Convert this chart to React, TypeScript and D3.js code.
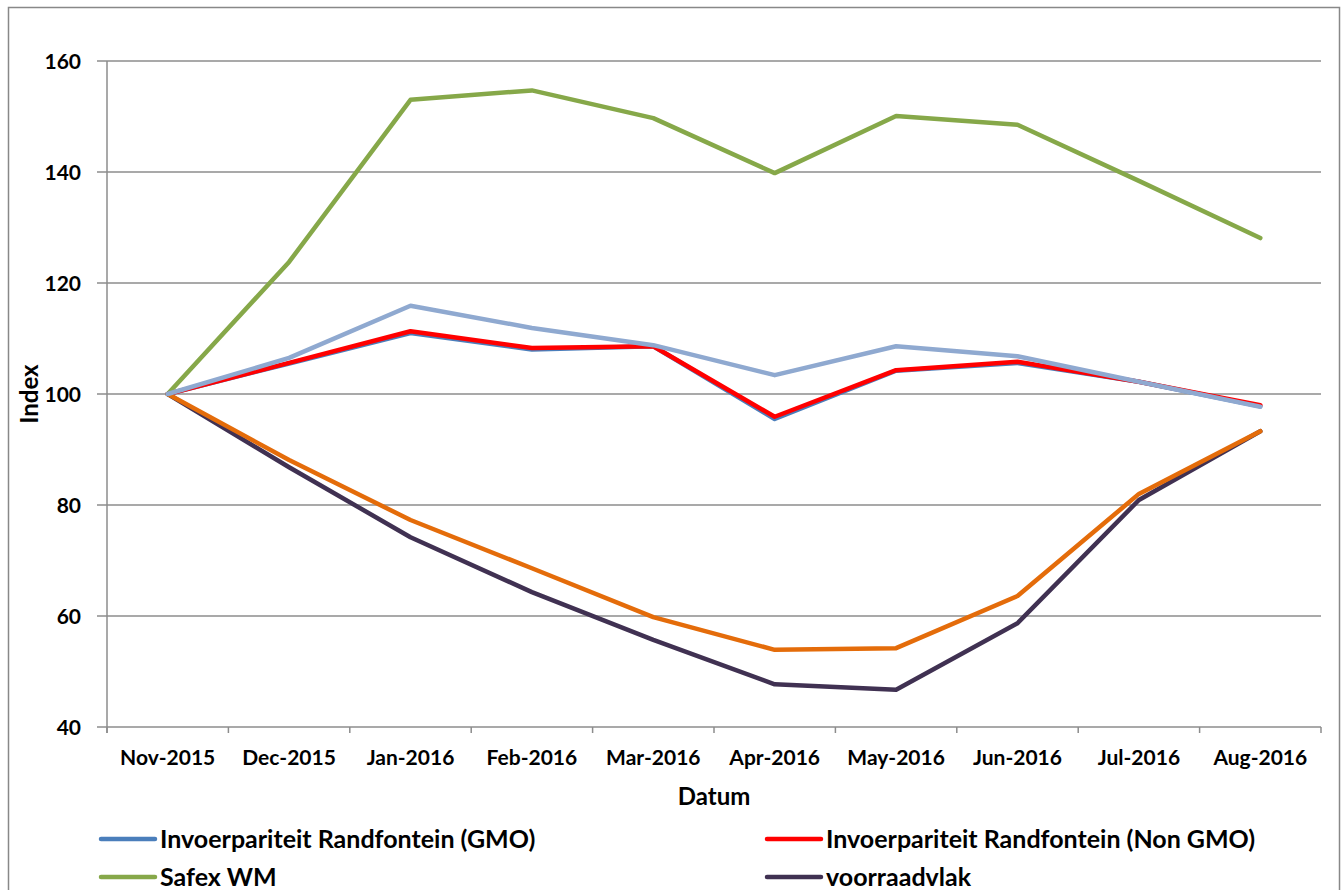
import * as d3 from "d3";

const months = [
  "Nov-2015", "Dec-2015", "Jan-2016", "Feb-2016", "Mar-2016",
  "Apr-2016", "May-2016", "Jun-2016", "Jul-2016", "Aug-2016",
];
const gmo = [100, 105.5, 111.0, 108.0, 108.6, 95.5, 104.2, 105.6, 102.2, 97.8];
const nonGmo = [100, 105.6, 111.3, 108.3, 108.6, 95.9, 104.3, 105.8, 102.2, 98.0];
const safex = [100, 123.8, 153.0, 154.7, 149.7, 139.8, 150.1, 148.5, 138.4, 128.1];
const voorraad = [100, 86.8, 74.2, 64.3, 55.7, 47.7, 46.7, 58.7, 80.9, 93.3];
const orange = [100, 88.1, 77.3, 68.6, 59.8, 53.9, 54.2, 63.6, 82.0, 93.3];
const lightBlue = [100, 106.5, 115.9, 111.9, 108.8, 103.4, 108.6, 106.8, 102.2, 97.7];
const yTicks = [40, 60, 80, 100, 120, 140, 160];

const series = [
  { name: "Invoerpariteit Randfontein (GMO)", values: gmo, color: "#4a7ebb" },
  { name: "Invoerpariteit Randfontein (Non GMO)", values: nonGmo, color: "#ff0000" },
  { name: "Safex WM", values: safex, color: "#86a849" },
  { name: "voorraadvlak", values: voorraad, color: "#403152" },
  { name: "Series5", values: orange, color: "#e46c0a" },
  { name: "Series6", values: lightBlue, color: "#8fa9d0" },
];

const width = 1344;
const height = 890;
const left = 107;
const right = 1321;
const top = 61;
const bottom = 727;
const font = "Lato, 'Open Sans', sans-serif";

export default function App() {
  const x = d3.scaleBand<string>().domain(months).range([left, right]);
  const y = d3.scaleLinear().domain([40, 160]).range([bottom, top]);
  const line = d3
    .line<number>()
    .x((_d, i) => (x(months[i]) ?? 0) + x.bandwidth() / 2)
    .y((d) => y(d));
  const boundaries = months.map((m) => x(m) ?? 0).concat([right]);

  return (
    <svg
      width={width}
      height={height}
      style={{ position: "absolute", left: 0, top: 0, background: "#fff" }}
      fontFamily={font}
      fontWeight="bold"
    >
      <rect x={8.5} y={7.5} width={1331} height={900} fill="#fff" stroke="#888" strokeWidth={1.5} />

      {/* gridlines */}
      {yTicks.map((t) => (
        <line key={t} x1={left - 10} x2={right} y1={y(t)} y2={y(t)} stroke="#8c8c8c" strokeWidth={1.5} />
      ))}
      <line x1={left} x2={left} y1={top} y2={bottom + 6} stroke="#8c8c8c" strokeWidth={1.5} />
      {boundaries.map((b, i) => (
        <line key={i} x1={b} x2={b} y1={bottom} y2={bottom + 6} stroke="#8c8c8c" strokeWidth={1.5} />
      ))}

      {yTicks.map((t) => (
        <text key={t} x={81} y={y(t)} dy="0.36em" textAnchor="end" fontSize={21} fill="#000">
          {t}
        </text>
      ))}
      {months.map((m) => (
        <text key={m} x={(x(m) ?? 0) + x.bandwidth() / 2} y={765} textAnchor="middle" fontSize={21} fill="#000">
          {m}
        </text>
      ))}
      <text x={714} y={805} textAnchor="middle" fontSize={24} fill="#000">Datum</text>
      <text transform={`translate(38,${y(100)}) rotate(-90)`} textAnchor="middle" fontSize={24} fill="#000">
        Index
      </text>

      {series.map((s) => (
        <path
          key={s.name}
          d={line(s.values) ?? ""}
          fill="none"
          stroke={s.color}
          strokeWidth={4.5}
          strokeLinejoin="round"
          strokeLinecap="round"
        />
      ))}

      {/* legend */}
      {series.slice(0, 4).map((s, i) => {
        const lx = i % 2 === 0 ? 101 : 767;
        const ly = 839 + Math.floor(i / 2) * 38;
        return (
          <g key={s.name}>
            <line x1={lx} x2={lx + 54} y1={ly} y2={ly} stroke={s.color} strokeWidth={4.5} strokeLinecap="round" />
            <text x={lx + 59} y={ly} dy="0.36em" fontSize={25} fill="#000">
              {s.name}
            </text>
          </g>
        );
      })}
    </svg>
  );
}
